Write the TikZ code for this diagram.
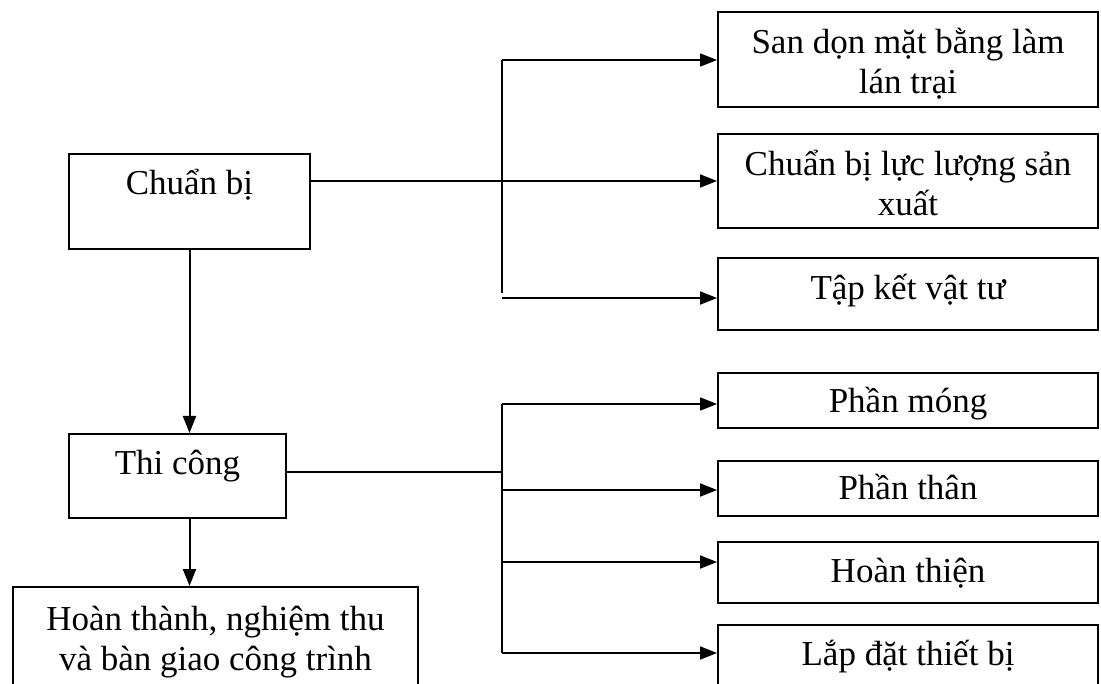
\documentclass[tikz,border=0pt]{standalone}
\usepackage{fontspec}
\setmainfont{Liberation Serif}
\usetikzlibrary{arrows.meta}
\begin{document}
\begin{tikzpicture}[x=1pt,y=-1pt,
  box/.style={draw, line width=2pt, rectangle, inner sep=0pt, align=center,
    font=\fontsize{35}{40}\selectfont},
  rbox/.style={box, minimum width=380pt},
  arr/.style={line width=2pt, -{Triangle[length=17pt,width=13pt]}},
  ln/.style={line width=2pt}]
\useasboundingbox (0,0) rectangle (1101,684);
\fill[white] (0,0) rectangle (1101,684);
% left column
\node[box, minimum width=241pt, minimum height=95pt, text height=20pt, text depth=33pt] (cb) at (189.5,201.5) {Chuẩn bị};
\node[box, minimum width=217pt, minimum height=84pt, text height=20pt, text depth=22pt] (tc) at (177.5,476) {Thi công};
\node[box, minimum width=405pt, minimum height=104pt, text height=69pt, text depth=7pt] (ht) at (215.5,639) {Hoàn thành, nghiệm thu\\và bàn giao công trình};
% right column, upper group
\node[rbox, minimum height=95pt, text height=76pt, text depth=7pt] (r1) at (908,59.5) {San dọn mặt bằng làm\\lán trại};
\node[rbox, minimum height=94pt, text height=77pt, text depth=7pt] (r2) at (908,181) {Chuẩn bị lực lượng sản\\xuất};
\node[rbox, minimum height=72pt, text height=28pt, text depth=16pt] (r3) at (908,294) {Tập kết vật tư};
% right column, lower group
\node[rbox, minimum height=55pt, text height=30pt, text depth=5pt] (s1) at (908,400.5) {Phần móng};
\node[rbox, minimum height=55pt, text height=30pt, text depth=7pt] (s2) at (908,488.5) {Phần thân};
\node[rbox, minimum height=61pt, text height=28pt, text depth=9pt] (s3) at (908,572.5) {Hoàn thiện};
\node[rbox, minimum height=63pt, text height=28pt, text depth=11pt] (s4) at (908,656.5) {Lắp đặt thiết bị};
% upper branch
\coordinate (a1) at (502,60);
\coordinate (a3) at (502,293);
\coordinate (b3) at (502,298);
\draw[ln] (a3) -- (a1);
\draw[arr] (a1) -- (a1 -| r1.west);
\draw[arr] (cb.east |- r2.west) -- (r2.west);
\draw[arr] (b3) -- (b3 -| r3.west);
% lower branch
\coordinate (j2) at (502,472);
\coordinate (c1) at (502,404);
\coordinate (c2) at (502,490);
\coordinate (c3) at (502,562);
\coordinate (c4) at (502,653);
\draw[ln] (tc.east |- j2) -- (j2);
\draw[ln] (c1) -- (c4);
\draw[arr] (c1) -- (c1 -| s1.west);
\draw[arr] (c2) -- (c2 -| s2.west);
\draw[arr] (c3) -- (c3 -| s3.west);
\draw[arr] (c4) -- (c4 -| s4.west);
% vertical flow
\draw[arr] (cb.south) -- (cb.south |- tc.north);
\draw[arr] (cb.south |- tc.south) -- (cb.south |- ht.north);
\end{tikzpicture}
\end{document}
